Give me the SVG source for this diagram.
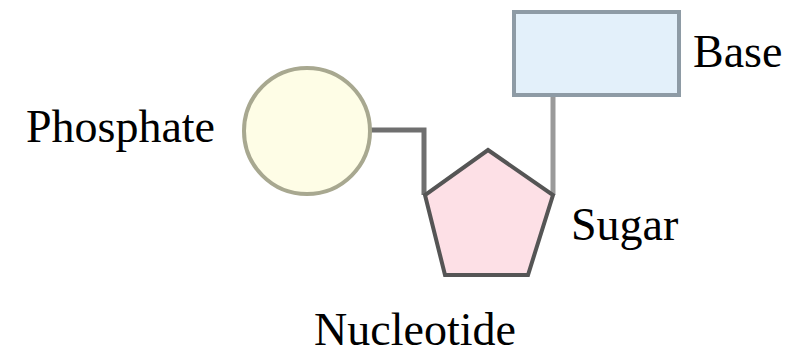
<svg xmlns="http://www.w3.org/2000/svg" width="785" height="356" viewBox="0 0 785 356">
<style>
.lbl{font-family:"Liberation Serif","Times New Roman",serif;font-size:46px;fill:#000}
.conn{fill:none;stroke-width:5}
</style>
<rect width="785" height="356" fill="#fff"/>
<g id="connectors">
<polyline class="conn" stroke="#6f6f6f" points="371,130 424,130 424,195"/>
<line class="conn" stroke="#9a9a9a" x1="553" y1="95" x2="553" y2="195"/>
</g>
<g id="phosphate">
<circle cx="307" cy="131" r="63" fill="#fefde6" stroke="#a8a890" stroke-width="4"/>
<text class="lbl" x="215" y="142" text-anchor="end">Phosphate</text>
</g>
<g id="sugar">
<polygon points="488,150 553,195 528,275 445,275 425,195" fill="#fde0e6" stroke="#555" stroke-width="4" stroke-linejoin="miter"/>
<text class="lbl" x="571" y="240">Sugar</text>
</g>
<g id="base">
<rect x="514" y="12" width="165" height="83" fill="#e3f0fa" stroke="#8e9ba5" stroke-width="4"/>
<text class="lbl" x="693" y="67">Base</text>
</g>
<g id="nucleotide">
<text class="lbl" x="415" y="345" text-anchor="middle">Nucleotide</text>
</g>
</svg>
